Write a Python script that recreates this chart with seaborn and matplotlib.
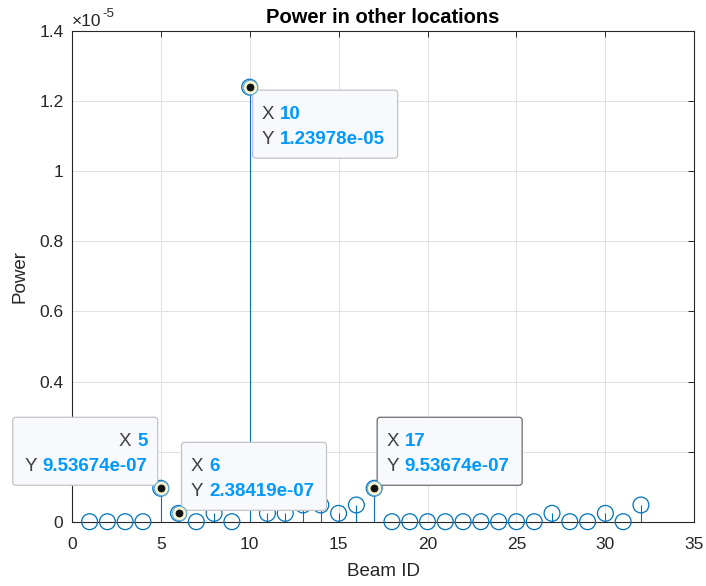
import numpy as np
import pandas as pd
import matplotlib
matplotlib.use("Agg")
import matplotlib.pyplot as plt
from matplotlib.patches import FancyBboxPatch
from matplotlib.transforms import IdentityTransform
from matplotlib.ticker import FixedLocator, FuncFormatter
import seaborn as sns

# Received power per beam
beam_id = list(range(1, 33))
power = [0, 0, 0, 0, 9.53674e-07, 2.38419e-07, 0, 2.38419e-07, 0, 1.23978e-05,
         2.38419e-07, 2.38419e-07, 4.76837e-07, 4.76837e-07, 2.38419e-07, 4.76837e-07,
         9.53674e-07, 0, 0, 0, 0, 0, 0, 0, 0, 0,
         2.38419e-07, 0, 0, 2.38419e-07, 0, 4.76837e-07]

# Data tips: beam, side of the box ("ur" up-right, "ul" up-left, "dr" down-right)
tip_beams = [10, 5, 6, 17]
tip_sides = ["dr", "ul", "ur", "ur"]
tip_dark_edge = [False, False, False, True]

x_ticks = [0, 5, 10, 15, 20, 25, 30, 35]
y_ticks = [0, 0.2e-5, 0.4e-5, 0.6e-5, 0.8e-5, 1.0e-5, 1.2e-5, 1.4e-5]

sns.set_theme(style="white")
plt.rcParams["font.family"] = ["Liberation Sans", "DejaVu Sans"]

BLUE = "#0072BD"
AX_COL = "#262626"
TIP_VAL = "#0099FF"
TIP_LBL = "#404040"
TIP_FS = 13.5

df = pd.DataFrame({"beam": beam_id, "power": power})

W, H, DPI = 706, 586, 100
fig = plt.figure(figsize=(W / DPI, H / DPI), dpi=DPI)
fig.patch.set_facecolor("white")
left, right, top, bottom = 71.8, 694.3, 31.0, 521.7
ax = fig.add_axes([left / W, 1 - bottom / H, (right - left) / W, (bottom - top) / H])
ax.set_facecolor("white")

ax.set_xlim(0, 35)
ax.set_ylim(0, 1.4e-5)

# grid
ax.xaxis.set_major_locator(FixedLocator(x_ticks))
ax.yaxis.set_major_locator(FixedLocator(y_ticks))
ax.yaxis.set_major_formatter(FuncFormatter(lambda v, p: f"{v / 1e-5:g}"))
ax.grid(True, color="#E1E1E1", linewidth=0.7, zorder=0)
ax.set_axisbelow(True)

# stems
ax.vlines(df["beam"], 0, df["power"], color=BLUE, linewidth=0.8, zorder=2)

# circle markers
sns.scatterplot(data=df, x="beam", y="power", ax=ax, marker="o", s=130,
                facecolors="none", edgecolors=BLUE, linewidths=0.9,
                zorder=3, clip_on=False, legend=False)

for sp in ax.spines.values():
    sp.set_color(AX_COL)
    sp.set_linewidth(0.8)

ax.tick_params(axis="both", which="major", direction="in", length=4.5, width=0.7,
               color=AX_COL, labelcolor=AX_COL, labelsize=12.5,
               top=True, right=True, labeltop=False, labelright=False)
ax.tick_params(axis="x", pad=11)
ax.tick_params(axis="y", pad=6)

ax.set_xlabel("Beam ID", fontsize=13.5, color=AX_COL, labelpad=8)
ax.set_ylabel("Power", fontsize=13.5, color=AX_COL, labelpad=7.5)
ax.set_title("Power in other locations", fontsize=14.5, fontweight="bold",
             color="black", pad=5.5)

ident = IdentityTransform()
renderer = fig.canvas.get_renderer()

# exponent label
ex0, ey0 = ax.transAxes.transform((0, 1))
exp_base = ax.text(ex0, ey0 + 5, "×10", transform=ident, ha="left",
                   va="baseline", fontsize=12.5, color=AX_COL, clip_on=False)
eb = exp_base.get_window_extent(renderer)
ax.text(eb.x1 + 1, ey0 + 14, "-5", transform=ident, ha="left", va="baseline",
        fontsize=9.5, color=AX_COL, clip_on=False)

# data tips
box_w, box_h, gap, sep = 145, 68, 3, 6
for b, side, dark in zip(tip_beams, tip_sides, tip_dark_edge):
    val = power[beam_id.index(b)]
    px, py = ax.transData.transform((b, val))
    if side == "dr":
        x0, y0 = px + gap, py - gap - box_h
    elif side == "ul":
        x0, y0 = px - gap - box_w, py + gap
    else:
        x0, y0 = px + gap, py + gap
    box = FancyBboxPatch((x0, y0), box_w, box_h,
                         boxstyle="round,pad=0,rounding_size=3",
                         transform=ident, facecolor="#F8F9FD",
                         edgecolor="#6E6E6E" if dark else "#C4C4C4",
                         linewidth=0.9, zorder=5, clip_on=False)
    ax.add_patch(box)
    ytop = y0 + box_h
    lines = [("X", f"{b}"), ("Y", f"{val:g}")]
    for i, (lbl, txt) in enumerate(lines):
        base = ytop - 29 - 25 * i
        if side == "ul":
            t = ax.text(x0 + box_w - 10, base, txt, transform=ident, ha="right",
                        va="baseline", fontsize=TIP_FS, fontweight="bold",
                        color=TIP_VAL, zorder=6, clip_on=False)
            tb = t.get_window_extent(renderer)
            ax.text(tb.x0 - sep, base, lbl, transform=ident, ha="right",
                    va="baseline", fontsize=TIP_FS, color=TIP_LBL,
                    zorder=6, clip_on=False)
        else:
            t = ax.text(x0 + 9, base, lbl, transform=ident, ha="left",
                        va="baseline", fontsize=TIP_FS, color=TIP_LBL,
                        zorder=6, clip_on=False)
            tb = t.get_window_extent(renderer)
            ax.text(tb.x1 + sep, base, txt, transform=ident, ha="left",
                    va="baseline", fontsize=TIP_FS, fontweight="bold",
                    color=TIP_VAL, zorder=6, clip_on=False)

# highlighted markers at data tips
tip_df = df[df["beam"].isin(tip_beams)]
sns.scatterplot(data=tip_df, x="beam", y="power", ax=ax, marker="o", s=110,
                facecolors="#F7F4D2", edgecolors="#5FA5D6", linewidths=0.8,
                zorder=7, clip_on=False, legend=False)
sns.scatterplot(data=tip_df, x="beam", y="power", ax=ax, marker="o", s=26,
                facecolors="#111111", edgecolors="#111111", linewidths=0.5,
                zorder=8, clip_on=False, legend=False)

ax.set_xlim(0, 35)
ax.set_ylim(0, 1.4e-5)

fig.savefig("out.png", dpi=DPI, facecolor="white")
